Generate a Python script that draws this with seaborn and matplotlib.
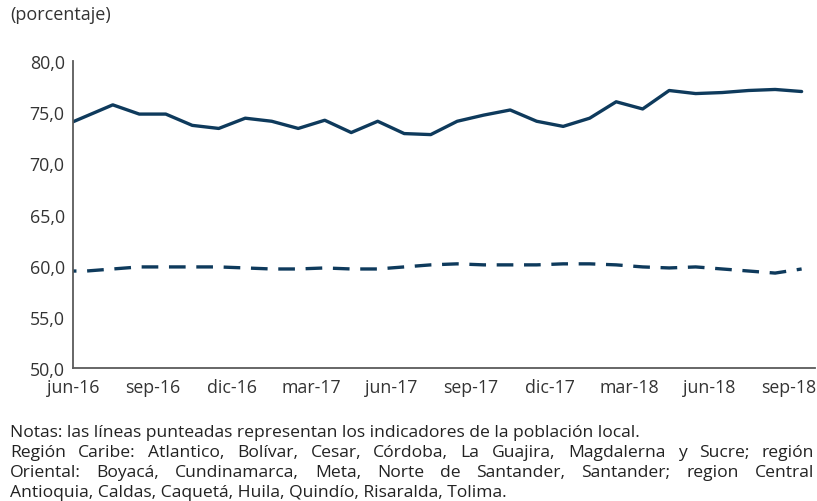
import matplotlib
matplotlib.use("Agg")
import matplotlib.pyplot as plt
import seaborn as sns
import pandas as pd

# monthly series (may-16 is only used so the line enters from the left edge)
months = ["may-16", "jun-16", "jul-16", "ago-16", "sep-16", "oct-16", "nov-16", "dic-16",
          "ene-17", "feb-17", "mar-17", "abr-17", "may-17", "jun-17", "jul-17", "ago-17",
          "sep-17", "oct-17", "nov-17", "dic-17", "ene-18", "feb-18", "mar-18", "abr-18",
          "may-18", "jun-18", "jul-18", "ago-18", "sep-18"]
region = [73.5, 74.6, 75.7, 74.8, 74.8, 73.7, 73.4, 74.4, 74.1, 73.4, 74.2, 73.0, 74.1,
          72.9, 72.8, 74.1, 74.7, 75.2, 74.1, 73.6, 74.4, 76.0, 75.3, 77.1, 76.8, 76.9,
          77.1, 77.2, 77.0]
local = [59.5, 59.5, 59.7, 59.9, 59.9, 59.9, 59.9, 59.8, 59.7, 59.7, 59.8, 59.7, 59.7,
         59.9, 60.1, 60.2, 60.1, 60.1, 60.1, 60.2, 60.2, 60.1, 59.9, 59.8, 59.9, 59.7,
         59.5, 59.3, 59.7]
tick_labels = ["jun-16", "sep-16", "dic-16", "mar-17", "jun-17", "sep-17", "dic-17",
               "mar-18", "jun-18", "sep-18"]
notes = ["Notas: las líneas punteadas representan los indicadores de la población local.",
         "Región Caribe: Atlantico, Bolívar, Cesar, Córdoba, La Guajira, Magdalerna y Sucre; región",
         "Oriental: Boyacá, Cundinamarca, Meta, Norte de Santander, Santander; region Central",
         "Antioquia, Caldas, Caquetá, Huila, Quindío, Risaralda, Tolima."]

df = pd.DataFrame({"pos": range(-1, len(months) - 1), "mes": months,
                   "region": region, "local": local})

sns.set_style("white")
plt.rcParams["font.family"] = ["Open Sans", "DejaVu Sans"]

color = "#0e3a5c"
W, H = 817, 502
fig = plt.figure(figsize=(W / 100, H / 100), dpi=100)
ax = fig.add_axes([0.0894, 0.264, 0.908, 0.613])

sns.lineplot(data=df, x="pos", y="region", ax=ax, color=color, lw=2.4)
sns.lineplot(data=df, x="pos", y="local", ax=ax, color=color, lw=2.4,
             linestyle=(0, (5, 3.2)))

ax.set_xlim(-0.5, 27.5)
ax.set_ylim(50, 80)
ax.set_xticks([-0.5 + 3 * k for k in range(len(tick_labels))])
ax.set_xticklabels(tick_labels)
ax.set_yticks([50, 55, 60, 65, 70, 75, 80])
ax.set_yticklabels(["50,0", "55,0", "60,0", "65,0", "70,0", "75,0", "80,0"])
ax.set_xlabel("")
ax.set_ylabel("")

for s in ["top", "right"]:
    ax.spines[s].set_visible(False)
for s in ["left", "bottom"]:
    ax.spines[s].set_color("#5a5a5a")
    ax.spines[s].set_linewidth(1.3)
ax.tick_params(axis="x", direction="in", length=4, width=1.2, color="#5a5a5a",
               labelsize=12.8, labelcolor="#333333", pad=7)
ax.tick_params(axis="y", direction="inout", length=6, width=1.2, color="#5a5a5a",
               labelsize=12.8, labelcolor="#333333", pad=3)

fig.text(10 / W, 1 - 15 / H, "(porcentaje)", fontsize=13, color="#333333", va="center")

# notes; the middle two lines are justified across the full width
renderer = fig.canvas.get_renderer()
for k, line in enumerate(notes):
    y = 1 - (433 + 20 * k) / H
    if k in (1, 2):
        words = line.split(" ")
        texts = [fig.text(0, y, w, fontsize=12.6, color="#222222", va="center") for w in words]
        widths = [t.get_window_extent(renderer).width for t in texts]
        gap = (814 - 10 - sum(widths)) / (len(words) - 1)
        x = 10
        for t, w in zip(texts, widths):
            t.set_x(x / W)
            x += w + gap
    else:
        fig.text(10 / W, y, line, fontsize=12.6, color="#222222", va="center")

fig.savefig("out.png", dpi=100)
